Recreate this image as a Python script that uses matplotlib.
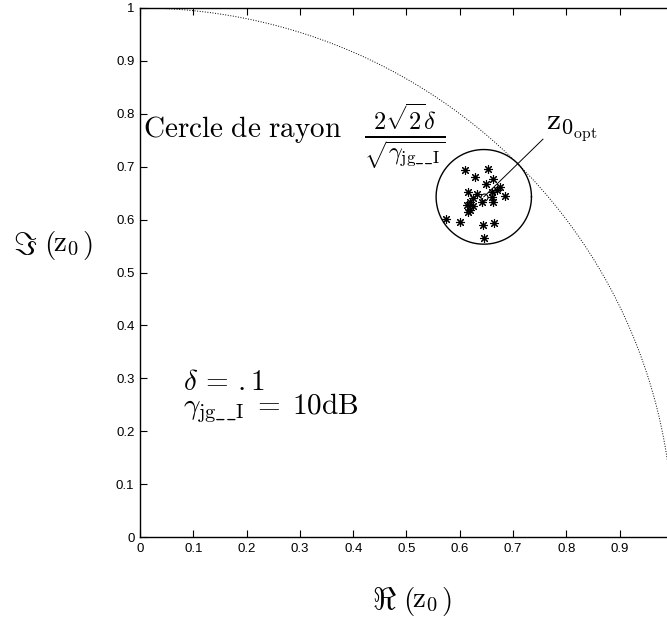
import numpy as np
import matplotlib
matplotlib.use('Agg')
import matplotlib.pyplot as plt

plt.rcParams['mathtext.fontset'] = 'cm'

# estimated channel points around the optimum
pts_re = [0.610, 0.652, 0.629, 0.663, 0.650, 0.675, 0.669, 0.660, 0.616, 0.632,
          0.685, 0.660, 0.625, 0.619, 0.663, 0.641, 0.613, 0.625, 0.619, 0.616,
          0.575, 0.600, 0.644, 0.664, 0.646]
pts_im = [0.694, 0.696, 0.681, 0.677, 0.667, 0.662, 0.656, 0.652, 0.653, 0.648,
          0.645, 0.643, 0.640, 0.633, 0.633, 0.633, 0.628, 0.626, 0.618, 0.615,
          0.602, 0.595, 0.590, 0.593, 0.565]
z_opt = (0.645, 0.643)
delta = 0.1
gamma_db = 10
xticks = [0, 0.1, 0.2, 0.3, 0.4, 0.5, 0.6, 0.7, 0.8, 0.9]
xtick_labels = ['0', '0.1', '0.2', '0.3', '0.4', '0.5', '0.6', '0.7', '0.8', '0.9']
yticks = [0, 0.1, 0.2, 0.3, 0.4, 0.5, 0.6, 0.7, 0.8, 0.9, 1]
ytick_labels = ['0', '0.1', '0.2', '0.3', '0.4', '0.5', '0.6', '0.7', '0.8', '0.9', '1']

radius = 2 * np.sqrt(2) * delta / np.sqrt(10 ** (gamma_db / 10))

W, H = 667, 617
fig = plt.figure(figsize=(W / 100, H / 100), dpi=100)
ax = fig.add_axes([140 / W, 80 / H, 533 / W, 529 / H])

# unit circle
t = np.linspace(0, np.pi / 2, 400)
ax.plot(np.cos(t), np.sin(t), ':', color='k', lw=0.7)

# circle of radius 2*sqrt(2)*delta/sqrt(gamma)
ax.plot(z_opt[0] + radius * np.cos(4 * t), z_opt[1] + radius * np.sin(4 * t),
        '-', color='k', lw=1.0)
ax.plot(pts_re, pts_im, linestyle='none', marker=(8, 2, 0), color='k',
        markersize=6.5, markeredgewidth=0.8)
ax.plot([z_opt[0]], [z_opt[1]], 'o', mfc='none', mec='k', markersize=5, mew=0.8)
ax.plot([z_opt[0], 0.756], [z_opt[1], 0.752], '-', color='k', lw=0.7)

ax.text(0.762, 0.772, r'$\mathrm{z}_{0_{\mathrm{opt}}}$', fontsize=23,
        ha='left', va='center')
ax.text(0.005, 0.770, r'$\mathrm{Cercle\ de\ rayon}$', fontsize=21,
        ha='left', va='center')
ax.text(0.420, 0.757,
        r'$\frac{2\sqrt{2}\delta}{\sqrt{\gamma_{\mathrm{jg}\_\_\mathrm{I}}}}$',
        fontsize=25, ha='left', va='center')
ax.text(0.08, 0.293, r'$\delta\,=\,.1$', fontsize=21, ha='left', va='center')
ax.text(0.08, 0.243, r'$\gamma_{\mathrm{jg}\_\_\mathrm{I}}\;=\;10\mathrm{dB}$',
        fontsize=21, ha='left', va='center')

ax.set_xlim(0, 1)
ax.set_ylim(0, 1)
ax.set_xticks(xticks)
ax.set_xticklabels(xtick_labels)
ax.set_yticks(yticks)
ax.set_yticklabels(ytick_labels)
ax.tick_params(direction='in', length=5, width=0.8, labelsize=9.5,
               top=True, right=False, pad=4)
for lab in ax.get_xticklabels() + ax.get_yticklabels():
    lab.set_fontfamily('Liberation Sans')
for s in ax.spines.values():
    s.set_linewidth(1.0)


def axis_label(sym, x0, yc):
    # symbol, parentheses and z0, laid out from the left edge in pixels
    fig.text(x0 / W, 1 - yc / H, sym, fontsize=23, ha='left', va='center')
    fig.text((x0 + 31) / W, 1 - yc / H, r'$($', fontsize=21, ha='left', va='center')
    fig.text((x0 + 40) / W, 1 - (yc - 1) / H, r'$\mathrm{z}_0$', fontsize=21,
             ha='left', va='center')
    fig.text((x0 + 69) / W, 1 - yc / H, r'$)$', fontsize=21, ha='left', va='center')


axis_label(r'$\Im$', 13, 245)
axis_label(r'$\Re$', 372, 601)

fig.savefig('out.png', dpi=100)
